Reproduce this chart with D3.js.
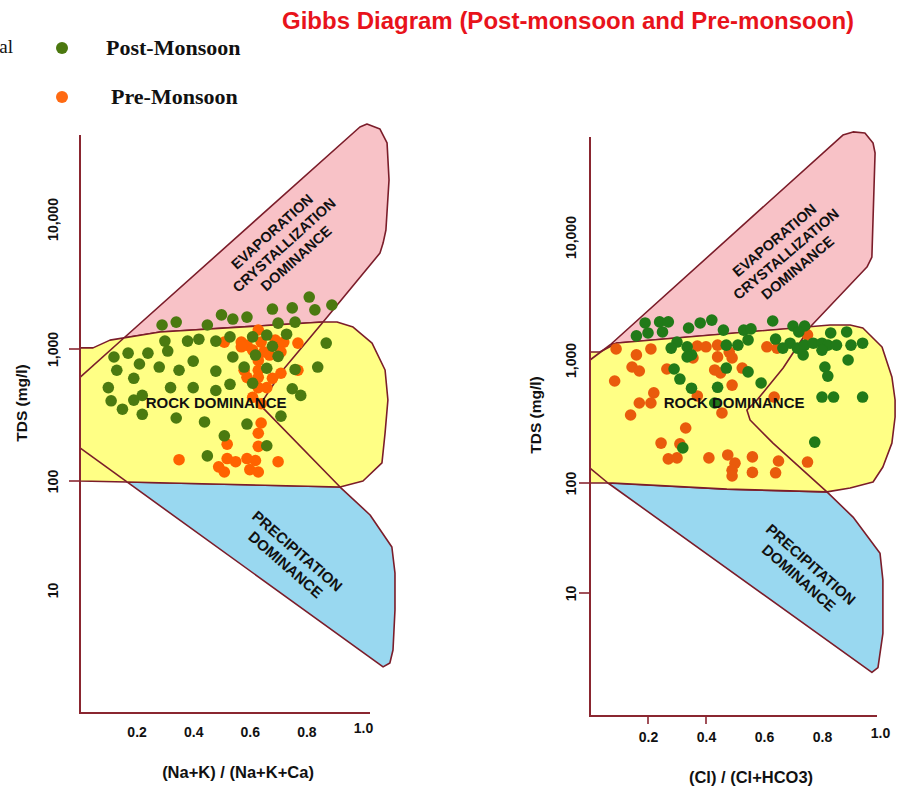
<!DOCTYPE html>
<html>
<head>
<meta charset="utf-8">
<script src="https://cdn.jsdelivr.net/npm/d3@7"></script>
<style>
  body { margin: 0; background: #fff; }
  svg text { font-family: "Liberation Sans", Arial, sans-serif; }
</style>
</head>
<body>
<svg id="chart" width="898" height="788"></svg>
<script>
// axis values
const tdsDomain = [1, 10, 100, 1000, 10000, 100000];
const tdsTicks = [10, 100, 1000, 10000];
const ratioTicks = [0.2, 0.4, 0.6, 0.8, 1.0];

// samples, [ratio, TDS mg/l]
const leftPost = [[0.81,2510],[0.89,2180],[0.75,2070],[0.68,2030],[0.83,2000],[0.50,1830],[0.59,1760],[0.54,1700],
  [0.34,1610],[0.29,1530],[0.45,1530],[0.70,1580],[0.76,1610],[0.66,1280],[0.73,1300],[0.53,1240],[0.30,1150],
  [0.38,1150],[0.42,1190],[0.48,1150],[0.61,1240],[0.68,1050],[0.87,1110],[0.12,870],[0.17,930],[0.24,930],
  [0.31,965],[0.13,690],[0.21,770],[0.28,730],[0.35,690],[0.40,810],[0.54,870],[0.58,730],[0.62,900],[0.70,880],
  [0.48,680],[0.66,715],[0.76,700],[0.84,730],[0.19,600],[0.10,510],[0.32,510],[0.40,510],[0.48,485],[0.53,540],
  [0.61,550],[0.75,500],[0.78,445],[0.11,405],[0.19,410],[0.22,445],[0.15,350],[0.22,320],[0.34,300],[0.44,280],
  [0.59,270],[0.71,310],[0.51,220],[0.66,185],[0.45,155]];
const leftPre = [[0.63,1400],[0.51,1130],[0.57,1130],[0.59,1070],[0.64,1130],[0.69,1170],[0.72,1130],[0.77,1110],
  [0.57,1040],[0.61,980],[0.65,950],[0.70,1070],[0.67,900],[0.71,950],[0.63,820],[0.58,690],[0.63,690],[0.59,610],
  [0.63,610],[0.71,655],[0.68,600],[0.66,510],[0.63,510],[0.61,430],[0.64,385],[0.77,690],[0.64,275],[0.63,230],
  [0.52,190],[0.63,183],[0.35,145],[0.52,148],[0.55,140],[0.59,148],[0.62,143],[0.70,140],[0.49,128],[0.51,117],
  [0.60,122],[0.63,117]];
const rightPost = [[0.19,2000],[0.24,2040],[0.27,2040],[0.16,1570],[0.20,1660],[0.25,1690],[0.34,1820],[0.38,2000],
  [0.42,2110],[0.46,1750],[0.53,1750],[0.555,1790],[0.545,1455],[0.63,2075],[0.70,1890],[0.74,1890],[0.72,1690],
  [0.64,1480],[0.83,1660],[0.885,1690],[0.30,1400],[0.28,1250],[0.335,1280],[0.35,1100],[0.335,1060],[0.47,1320],
  [0.51,1320],[0.69,1370],[0.665,1250],[0.715,1250],[0.74,1320],[0.77,1370],[0.80,1370],[0.82,1320],[0.85,1320],
  [0.735,1100],[0.80,1200],[0.90,1320],[0.94,1370],[0.89,1000],[0.29,845],[0.47,860],[0.545,800],[0.31,700],
  [0.35,590],[0.44,600],[0.59,650],[0.81,877],[0.82,740],[0.80,500],[0.84,500],[0.94,500],[0.43,447],[0.775,215],
  [0.32,193]];
const rightPre = [[0.09,1230],[0.16,1100],[0.21,1230],[0.145,877],[0.17,814],[0.085,675],[0.265,845],[0.355,1040],
  [0.37,1300],[0.40,1280],[0.44,1320],[0.44,1060],[0.48,1160],[0.49,1040],[0.43,830],[0.45,785],[0.525,860],
  [0.49,625],[0.61,1280],[0.645,1250],[0.75,1600],[0.22,540],[0.21,447],[0.17,447],[0.14,357],[0.37,510],
  [0.455,371],[0.635,500],[0.33,280],[0.245,211],[0.31,208],[0.27,157],[0.30,160],[0.41,160],[0.475,169],
  [0.50,145],[0.49,127],[0.49,114],[0.56,163],[0.56,122],[0.65,151],[0.64,121],[0.75,148]];

// field outlines, in the same [ratio, TDS] units
const leftEvaporation = [[0.155,1215],[0.989,51000],[1.014,53800],[1.06,49200],[1.085,38500],[1.092,20000],
  [1.081,8230],[1.071,6530],[1.06,5470],[0.859,1615],[0.283,1350]];
const leftRock = [[0,1020],[0.046,1020],[0.106,1170],[0.283,1350],[0.859,1615],[0.908,1615],[0.965,1475],
  [1.032,1110],[1.078,693],[1.088,411],[1.078,231],[1.067,137],[1.0,100],[0.919,88],[0.166,98],[0,100]];
const leftPrecipitation = [[0.166,98],[0.919,88],[1.025,48.8],[1.102,24.8],[1.113,14.3],[1.113,6.6],
  [1.106,2.85],[1.095,2.17],[1.071,2.0]];
const leftDividers = [
  [[0,610],[0.155,1215]],
  [[0.859,1615],[0.717,693],[0.636,377],[0.919,88]],
  [[0,178],[0.166,98]]
];

const rightEvaporation = [[0.069,1324],[0.872,67400],[0.907,71500],[0.948,70100],[0.976,58100],[0.983,48200],
  [0.972,6870],[0.955,5700],[0.759,1854],[0.093,1374]];
const rightRock = [[0,1161],[0.034,1161],[0.093,1374],[0.828,1928],[0.897,1928],[0.941,1820],[1.007,1276],
  [1.041,728],[1.052,473],[1.052,344],[1.041,211],[1.01,135],[0.976,102],[0.897,90],[0.817,83],[0.472,88],
  [0.079,100],[0,100]];
const rightPrecipitation = [[0.062,100],[0.472,88],[0.817,83],[0.907,49],[1.0,23],[1.01,13.1],[1.01,4.3],
  [0.993,2.1],[0.972,1.9]];
const rightDividers = [
  [[0,1000],[0.069,1324]],
  [[0.759,1854],[0.666,861],[0.576,473],[0.541,392],[0.552,325],[0.631,211],[0.817,83]],
  [[0,132],[0.062,100]]
];

const pink = "#f8c2c7", yellow = "#ffff85", blue = "#99d8f0";
const border = "#7b1d2a", axisColor = "#8a2630";

const panels = [
  { xTitle: "(Na+K) / (Na+K+Ca)", post: leftPost, pre: leftPre,
    evap: leftEvaporation, rock: leftRock, precip: leftPrecipitation, dividers: leftDividers,
    xRange: [80, 363], yRange: [700, 590, 481, 349, 219, 89], top: 135, bottom: 713, right: 370,
    postColor: "#4b7a10", preColor: "#ff6200",
    yTickMarks: [100, 1000], xTickMarks: [],
    labelOffset: 22, yTitle: [27, 403], xPad: 14, xTitleX: 238, xTitleY: 778,
    evapAt: [0.721, 6310, -42], rockAt: [0.481, 390], precipAt: [0.747, 19.7, 41] },
  { xTitle: "(Cl) / (Cl+HCO3)", post: rightPost, pre: rightPre,
    evap: rightEvaporation, rock: rightRock, precip: rightPrecipitation, dividers: rightDividers,
    xRange: [590, 880], yRange: [703, 593, 483, 360, 237, 114], top: 137, bottom: 716, right: 877,
    postColor: "#217a18", preColor: "#e95b0c",
    yTickMarks: [10, 100], xTickMarks: [0.2, 0.4],
    labelOffset: 14, yTitle: [541, 415], xPad: 16, xTitleX: 751, xTitleY: 783,
    evapAt: [0.676, 7280, -40], rockAt: [0.497, 447], precipAt: [0.741, 15.8, 41.5] }
];

const svg = d3.select("#chart");

function blockLabel(g, lines, cx, cy, angle, size, lh) {
  const t = g.append("text")
    .attr("transform", `translate(${cx},${cy}) rotate(${angle})`)
    .attr("text-anchor", "middle")
    .style("font-size", size + "px").style("font-weight", "bold").attr("fill", "#111");
  lines.forEach((s, i) => {
    t.append("tspan").attr("x", 0).attr("y", (i - (lines.length - 1) / 2) * lh)
      .attr("dy", "0.35em").text(s);
  });
}

panels.forEach(p => {
  const x = d3.scaleLinear().domain([0, 1]).range(p.xRange);
  const y = d3.scaleLog().domain(tdsDomain).range(p.yRange);
  const line = d3.line().x(d => x(d[0])).y(d => y(d[1]));
  const g = svg.append("g");

  [[p.evap, pink], [p.precip, blue], [p.rock, yellow]].forEach(([pts, fill]) => {
    g.append("path").attr("d", line(pts) + "Z")
      .attr("fill", fill).attr("stroke", border).attr("stroke-width", 1.6)
      .attr("stroke-linejoin", "round");
  });
  p.dividers.forEach(pts => {
    g.append("path").attr("d", line(pts)).attr("fill", "none")
      .attr("stroke", border).attr("stroke-width", 1.6).attr("stroke-linejoin", "round");
  });

  // frame
  g.append("path").attr("d", `M${x(0)},${p.top}V${p.bottom}H${p.right}`)
    .attr("fill", "none").attr("stroke", axisColor).attr("stroke-width", 2);

  g.selectAll(".ytm").data(p.yTickMarks).join("line")
    .attr("x1", x(0) - 11).attr("x2", x(0))
    .attr("y1", d => y(d)).attr("y2", d => y(d))
    .attr("stroke", axisColor).attr("stroke-width", 1.6);
  g.selectAll(".xtm").data(p.xTickMarks).join("line")
    .attr("x1", d => x(d)).attr("x2", d => x(d))
    .attr("y1", p.bottom).attr("y2", p.bottom + 8)
    .attr("stroke", axisColor).attr("stroke-width", 1.6);

  const yAxis = g.append("g").attr("transform", `translate(${x(0)},0)`)
    .call(d3.axisLeft(y).tickValues(tdsTicks).tickFormat(d3.format(",")).tickSize(0));
  yAxis.select(".domain").remove();
  yAxis.selectAll("text")
    .attr("x", null).attr("dy", null).attr("text-anchor", "middle")
    .attr("transform", `translate(${-p.labelOffset},0) rotate(-90)`)
    .attr("fill", "#111").style("font-size", "14px").style("font-weight", "bold");

  const xAxis = g.append("g").attr("transform", `translate(0,${p.bottom})`)
    .call(d3.axisBottom(x).tickValues(ratioTicks).tickFormat(d3.format(".1f")).tickSize(0).tickPadding(p.xPad));
  xAxis.select(".domain").remove();
  xAxis.selectAll("text").attr("fill", "#111")
    .style("font-size", "14px").style("font-weight", "bold");
  xAxis.selectAll(".tick").filter(d => d === 1).select("text").attr("y", p.xPad - 4);

  g.append("text").attr("x", p.xTitleX).attr("y", p.xTitleY)
    .attr("text-anchor", "middle").attr("fill", "#111")
    .style("font-size", "16.5px").style("font-weight", "bold").text(p.xTitle);
  g.append("text")
    .attr("transform", `translate(${p.yTitle[0]},${p.yTitle[1]}) rotate(-90)`)
    .attr("text-anchor", "middle").attr("fill", "#111")
    .style("font-size", "15.5px").style("font-weight", "bold").text("TDS (mg/l)");

  // field names
  blockLabel(g, ["EVAPORATION", "CRYSTALLIZATION", "DOMINANCE"],
    x(p.evapAt[0]), y(p.evapAt[1]), p.evapAt[2], 14.5, 18);
  blockLabel(g, ["PRECIPITATION", "DOMINANCE"],
    x(p.precipAt[0]), y(p.precipAt[1]), p.precipAt[2], 15, 18);

  g.selectAll(".pre").data(p.pre).join("circle")
    .attr("cx", d => x(d[0])).attr("cy", d => y(d[1])).attr("r", 5.8).attr("fill", p.preColor);
  g.selectAll(".post").data(p.post).join("circle")
    .attr("cx", d => x(d[0])).attr("cy", d => y(d[1])).attr("r", 5.8).attr("fill", p.postColor);

  blockLabel(g, ["ROCK DOMINANCE"], x(p.rockAt[0]), y(p.rockAt[1]), 0, 15, 0);
});

// title and legend
svg.append("text").attr("x", 282).attr("y", 29)
  .attr("fill", "#e8131b").style("font-size", "24px").style("font-weight", "bold")
  .text("Gibbs Diagram (Post-monsoon and Pre-monsoon)");

svg.append("text").attr("x", 13).attr("y", 53).attr("text-anchor", "end")
  .style("font-family", "'Liberation Serif', serif").style("font-size", "19px").attr("fill", "#111")
  .text("al");

const legendItems = [["Post-Monsoon", "#4b780f"], ["Pre-Monsoon", "#ff6a12"]];
legendItems.forEach(([name, c], i) => {
  svg.append("circle").attr("cx", 62).attr("cy", 48 + i * 49).attr("r", 6).attr("fill", c);
  svg.append("text").attr("x", 106 + i * 5).attr("y", 55 + i * 49)
    .style("font-family", "'Liberation Serif', serif").style("font-size", "22px")
    .style("font-weight", "bold").attr("fill", "#111").text(name);
});
</script>
</body>
</html>
